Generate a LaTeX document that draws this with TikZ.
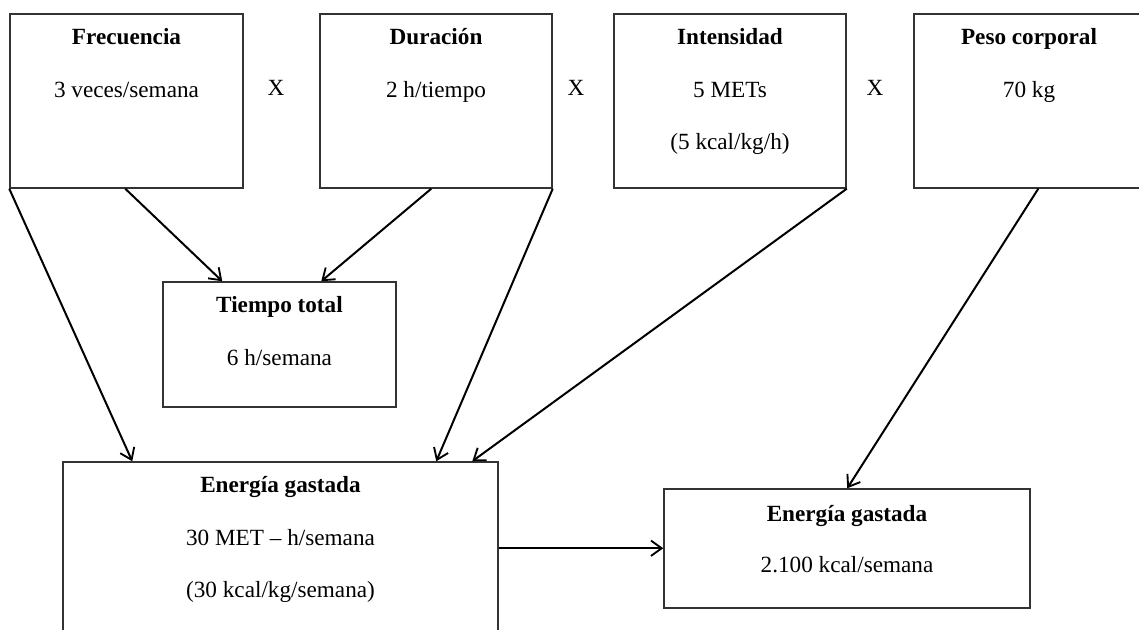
\documentclass[tikz,border=0pt]{standalone}
\usepackage{fontspec}
\setmainfont{Liberation Serif}
\usetikzlibrary{arrows.meta,fit,calc}

\begin{document}
\begin{tikzpicture}[
  x=0.75pt, y=-0.75pt,
  box/.style={draw=black!80, line width=1.1pt, inner sep=0pt, fill=none},
  txt/.style={anchor=base, inner sep=0pt, font=\fontsize{17.4}{20}\selectfont},
  ttl/.style={txt, font=\fontsize{17.4}{20}\selectfont\bfseries},
  flow/.style={line width=1.5pt, -{Straight Barb[length=8pt, width=11.5pt, line width=1.4pt]}}
]
\useasboundingbox (0,0) rectangle (1139,630);
\clip (0,0) rectangle (1139,630);

% factor boxes along the top row
\node[box, fit={(10,14) (243,188)}] (frec) {};
\node[box, fit={(320,14) (552,188)}] (dur) {};
\node[box, fit={(614,14) (846,188)}] (inten) {};
\node[box, fit={(914,14) (1144,188)}] (peso) {};

\node[ttl] (frecA) at (126.5,45) {Frecuencia};
\node[txt] (frecB) at (126.5,98) {3 veces/semana};
\node[ttl] (durA) at (436,45) {Duración};
\node[txt] (durB) at (436,98) {2 h/tiempo};
\node[ttl] (intA) at (730,45) {Intensidad};
\node[txt] (intB) at (730,98) {5 METs};
\node[txt] (intC) at (730,150) {(5 kcal/kg/h)};
\node[ttl] (pesoA) at (1029,45) {Peso corporal};
\node[txt] (pesoB) at (1029,98) {70 kg};

% multiplication signs between the factors
\node[txt] (x1) at (276,96) {X};
\node[txt] (x2) at (576,96) {X};
\node[txt] (x3) at (875,96) {X};

% intermediate result
\node[box, fit={(163,282) (396,407)}] (tiempo) {};
\node[ttl] (tiempoA) at (279.5,313) {Tiempo total};
\node[txt] (tiempoB) at (279.5,366) {6 h/semana};

% energy expended per kilogram
\node[box, fit={(63,462) (498,660)}] (eng) {};
\node[ttl] (engA) at (280.5,493) {Energía gastada};
\node[txt] (engB) at (280.5,546) {30 MET – h/semana};
\node[txt] (engC) at (280.5,597) {(30 kcal/kg/semana)};

% total energy expended
\node[box, fit={(664,489) (1030,608)}] (tot) {};
\node[ttl] (totA) at (847,522) {Energía gastada};
\node[txt] (totB) at (847,572) {2.100 kcal/semana};

% connectors
\draw[flow] (frec.south west) -- ($(eng.north west)+(70,0)$);
\draw[flow] ($(frec.south west)+(116,0)$) -- ($(tiempo.north west)+(60,0)$);
\draw[flow] ($(dur.south west)+(112,0)$) -- ($(tiempo.north west)+(159,0)$);
\draw[flow] (dur.south east) -- ($(eng.north west)+(374,0)$);
\draw[flow] (inten.south east) -- ($(eng.north west)+(410,0)$);
\draw[flow] ($(peso.south west)+(125,0)$) -- ($(tot.north west)+(184,0)$);
\draw[flow] ($(eng.north east)+(0,87)$) -- ($(tot.north west)+(0,60)$);
\end{tikzpicture}
\end{document}
